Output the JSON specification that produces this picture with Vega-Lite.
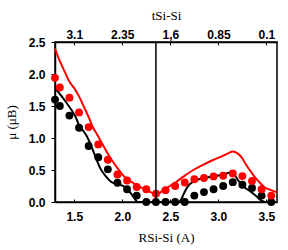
{
  "$schema": "https://vega.github.io/schema/vega-lite/v6.json",
  "autosize": {"type": "none"},
  "width": 222,
  "height": 160,
  "padding": {"left": 55, "top": 42, "right": 11, "bottom": 48},
  "background": "white",
  "config": {
    "view": {"stroke": "black", "strokeWidth": 1.5},
    "axis": {
      "grid": false,
      "labelFont": "Liberation Sans",
      "labelFontWeight": "bold",
      "labelFontSize": 12,
      "labelColor": "black",
      "labelOverlap": false,
      "domainColor": "black",
      "domainWidth": 1.5,
      "tickColor": "black",
      "titleFont": "Liberation Serif",
      "titleFontWeight": "normal",
      "titleFontSize": 13,
      "titleColor": "black"
    }
  },
  "datasets": {
    "dots": [
      {"R": 1.30, "mu": 1.60, "series": "black"},
      {"R": 1.35, "mu": 1.50, "series": "black"},
      {"R": 1.45, "mu": 1.35, "series": "black"},
      {"R": 1.55, "mu": 1.16, "series": "black"},
      {"R": 1.65, "mu": 0.875, "series": "black"},
      {"R": 1.75, "mu": 0.70, "series": "black"},
      {"R": 1.85, "mu": 0.51, "series": "black"},
      {"R": 1.95, "mu": 0.30, "series": "black"},
      {"R": 2.05, "mu": 0.20, "series": "black"},
      {"R": 2.15, "mu": 0.10, "series": "black"},
      {"R": 2.25, "mu": 0.0, "series": "black"},
      {"R": 2.35, "mu": 0.0, "series": "black"},
      {"R": 2.45, "mu": 0.0, "series": "black"},
      {"R": 2.55, "mu": 0.0, "series": "black"},
      {"R": 2.65, "mu": 0.0, "series": "black"},
      {"R": 2.75, "mu": 0.10, "series": "black"},
      {"R": 2.85, "mu": 0.155, "series": "black"},
      {"R": 2.95, "mu": 0.20, "series": "black"},
      {"R": 3.05, "mu": 0.25, "series": "black"},
      {"R": 3.15, "mu": 0.31, "series": "black"},
      {"R": 3.25, "mu": 0.27, "series": "black"},
      {"R": 3.35, "mu": 0.22, "series": "black"},
      {"R": 3.45, "mu": 0.10, "series": "black"},
      {"R": 3.55, "mu": 0.0, "series": "black"},
      {"R": 1.30, "mu": 1.94, "series": "red"},
      {"R": 1.35, "mu": 1.79, "series": "red"},
      {"R": 1.45, "mu": 1.63, "series": "red"},
      {"R": 1.55, "mu": 1.40, "series": "red"},
      {"R": 1.65, "mu": 1.17, "series": "red"},
      {"R": 1.75, "mu": 0.90, "series": "red"},
      {"R": 1.85, "mu": 0.66, "series": "red"},
      {"R": 1.95, "mu": 0.43, "series": "red"},
      {"R": 2.05, "mu": 0.335, "series": "red"},
      {"R": 2.15, "mu": 0.235, "series": "red"},
      {"R": 2.25, "mu": 0.20, "series": "red"},
      {"R": 2.35, "mu": 0.13, "series": "red"},
      {"R": 2.45, "mu": 0.185, "series": "red"},
      {"R": 2.55, "mu": 0.25, "series": "red"},
      {"R": 2.65, "mu": 0.305, "series": "red"},
      {"R": 2.75, "mu": 0.355, "series": "red"},
      {"R": 2.85, "mu": 0.375, "series": "red"},
      {"R": 2.95, "mu": 0.40, "series": "red"},
      {"R": 3.05, "mu": 0.41, "series": "red"},
      {"R": 3.15, "mu": 0.445, "series": "red"},
      {"R": 3.25, "mu": 0.405, "series": "red"},
      {"R": 3.35, "mu": 0.33, "series": "red"},
      {"R": 3.45, "mu": 0.20, "series": "red"},
      {"R": 3.55, "mu": 0.10, "series": "red"}
    ],
    "lines": [
      {"R": 1.30, "mu": 1.78, "series": "black"},
      {"R": 1.36, "mu": 1.67, "series": "black"},
      {"R": 1.41, "mu": 1.57, "series": "black"},
      {"R": 1.47, "mu": 1.44, "series": "black"},
      {"R": 1.52, "mu": 1.31, "series": "black"},
      {"R": 1.55, "mu": 1.20, "series": "black"},
      {"R": 1.59, "mu": 1.12, "series": "black"},
      {"R": 1.63, "mu": 1.03, "series": "black"},
      {"R": 1.67, "mu": 0.90, "series": "black"},
      {"R": 1.72, "mu": 0.71, "series": "black"},
      {"R": 1.77, "mu": 0.53, "series": "black"},
      {"R": 1.83, "mu": 0.40, "series": "black"},
      {"R": 1.88, "mu": 0.32, "series": "black"},
      {"R": 1.95, "mu": 0.28, "series": "black"},
      {"R": 2.02, "mu": 0.24, "series": "black"},
      {"R": 2.09, "mu": 0.135, "series": "black"},
      {"R": 2.14, "mu": 0.03, "series": "black"},
      {"R": 2.16, "mu": 0.0, "series": "black"},
      {"R": 2.59, "mu": 0.0, "series": "black"},
      {"R": 2.62, "mu": 0.06, "series": "black"},
      {"R": 2.65, "mu": 0.16, "series": "black"},
      {"R": 2.69, "mu": 0.26, "series": "black"},
      {"R": 2.74, "mu": 0.32, "series": "black"},
      {"R": 2.84, "mu": 0.37, "series": "black"},
      {"R": 2.95, "mu": 0.40, "series": "black"},
      {"R": 3.05, "mu": 0.43, "series": "black"},
      {"R": 3.13, "mu": 0.46, "series": "black"},
      {"R": 3.17, "mu": 0.42, "series": "black"},
      {"R": 3.21, "mu": 0.33, "series": "black"},
      {"R": 3.26, "mu": 0.24, "series": "black"},
      {"R": 3.32, "mu": 0.18, "series": "black"},
      {"R": 3.38, "mu": 0.11, "series": "black"},
      {"R": 3.44, "mu": 0.03, "series": "black"},
      {"R": 3.48, "mu": 0.0, "series": "black"},
      {"R": 1.30, "mu": 2.40, "series": "red"},
      {"R": 1.345, "mu": 2.22, "series": "red"},
      {"R": 1.40, "mu": 2.04, "series": "red"},
      {"R": 1.45, "mu": 1.88, "series": "red"},
      {"R": 1.50, "mu": 1.78, "series": "red"},
      {"R": 1.55, "mu": 1.65, "series": "red"},
      {"R": 1.60, "mu": 1.49, "series": "red"},
      {"R": 1.655, "mu": 1.31, "series": "red"},
      {"R": 1.69, "mu": 1.18, "series": "red"},
      {"R": 1.74, "mu": 1.05, "series": "red"},
      {"R": 1.81, "mu": 0.86, "series": "red"},
      {"R": 1.88, "mu": 0.68, "series": "red"},
      {"R": 1.95, "mu": 0.53, "series": "red"},
      {"R": 2.02, "mu": 0.40, "series": "red"},
      {"R": 2.12, "mu": 0.29, "series": "red"},
      {"R": 2.22, "mu": 0.21, "series": "red"},
      {"R": 2.30, "mu": 0.15, "series": "red"},
      {"R": 2.35, "mu": 0.11, "series": "red"},
      {"R": 2.43, "mu": 0.19, "series": "red"},
      {"R": 2.54, "mu": 0.29, "series": "red"},
      {"R": 2.64, "mu": 0.40, "series": "red"},
      {"R": 2.74, "mu": 0.50, "series": "red"},
      {"R": 2.84, "mu": 0.58, "series": "red"},
      {"R": 2.95, "mu": 0.66, "series": "red"},
      {"R": 3.03, "mu": 0.71, "series": "red"},
      {"R": 3.10, "mu": 0.76, "series": "red"},
      {"R": 3.15, "mu": 0.79, "series": "red"},
      {"R": 3.20, "mu": 0.76, "series": "red"},
      {"R": 3.25, "mu": 0.68, "series": "red"},
      {"R": 3.28, "mu": 0.60, "series": "red"},
      {"R": 3.34, "mu": 0.47, "series": "red"},
      {"R": 3.39, "mu": 0.37, "series": "red"},
      {"R": 3.44, "mu": 0.29, "series": "red"},
      {"R": 3.48, "mu": 0.23, "series": "red"},
      {"R": 3.54, "mu": 0.19, "series": "red"},
      {"R": 3.61, "mu": 0.15, "series": "red"}
    ],
    "vline": [{"R": 2.35}]
  },
  "resolve": {"scale": {"x": "shared", "y": "shared"}, "axis": {"x": "independent", "y": "independent"}},
  "layer": [
    {
      "data": {"name": "lines"},
      "mark": {"type": "line", "strokeWidth": 2, "interpolate": "monotone", "clip": false},
      "encoding": {
        "x": {
          "field": "R", "type": "quantitative",
          "scale": {"domain": [1.3, 3.61], "nice": false, "zero": false},
          "axis": {
            "orient": "bottom",
            "values": [1.5, 2, 2.5, 3, 3.5],
            "format": ".1f",
            "tickSize": -3,
            "labelPadding": 12,
            "title": "RSi-Si (A)",
            "titlePadding": 9
          }
        },
        "y": {
          "field": "mu", "type": "quantitative",
          "scale": {"domain": [0, 2.5], "nice": false, "zero": true},
          "axis": {
            "orient": "left",
            "values": [0, 0.5, 1, 1.5, 2, 2.5],
            "format": ".1f",
            "tickSize": 4,
            "labelPadding": 6,
            "labelOverlap": false,
            "title": "μ (μB)",
            "titlePadding": 10
          }
        },
        "color": {
          "field": "series", "type": "nominal",
          "scale": {"domain": ["black", "red"], "range": ["#000000", "#ff0000"]},
          "legend": null
        },
        "detail": {"field": "series"}
      }
    },
    {
      "data": {"name": "dots"},
      "mark": {"type": "circle", "size": 62, "opacity": 1, "clip": false},
      "encoding": {
        "x": {"field": "R", "type": "quantitative", "axis": null},
        "y": {"field": "mu", "type": "quantitative", "axis": null},
        "color": {"field": "series", "type": "nominal", "legend": null}
      }
    },
    {
      "data": {"name": "vline"},
      "mark": {"type": "rule", "color": "black", "strokeWidth": 1.5},
      "encoding": {
        "x": {
          "field": "R", "type": "quantitative",
          "axis": {
            "orient": "top",
            "values": [1.5, 2, 2.5, 3, 3.5],
            "labelExpr": "datum.value == 1.5 ? '3.1' : datum.value == 2 ? '2.35' : datum.value == 2.5 ? '1,6' : datum.value == 3 ? '0.85' : '0.1'",
            "tickSize": -3,
            "labelPadding": 4,
            "title": "tSi-Si",
            "titlePadding": 6
          }
        }
      }
    }
  ]
}
